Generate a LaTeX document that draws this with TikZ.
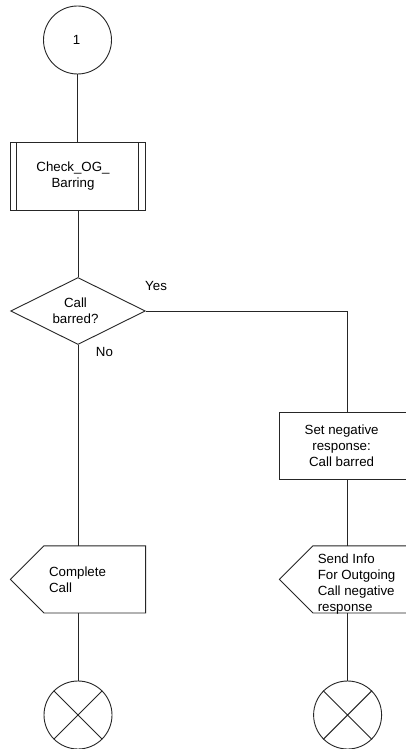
\documentclass[tikz,border=0pt]{standalone}
\usepackage{fontspec}
\setmainfont{Liberation Sans}
\usetikzlibrary{shapes.geometric}
\tikzset{
  ln/.style={draw=black!85, line width=0.9pt},
  txt/.style={font=\fontsize{13.3}{16}\selectfont, inner sep=0pt, align=center},
  conn/.style={circle, ln, minimum size=68pt, inner sep=0pt},
  box/.style={rectangle, ln, minimum width=134.6pt, minimum height=67.3pt, inner sep=0pt},
  decision/.style={diamond, aspect=2, ln, minimum width=134.6pt, minimum height=67pt, inner sep=0pt},
  sigbody/.style={rectangle, draw=none, minimum width=101.3pt, minimum height=66.7pt, inner sep=0pt},
}
\begin{document}
\begin{tikzpicture}[x=1pt,y=-1pt]
\clip (0,0) rectangle (406,749);
\fill[white] (0,0) rectangle (406,749);
% start connector
\node[conn] (start) at (77.5,40) {};
\node[txt] (startt) at ([xshift=-1pt]start.center) {1};
% procedure
\node[box] (proc) at (78,176.5) {};
\draw[ln] ([xshift=6.6pt]proc.north west) -- ([xshift=6.6pt]proc.south west);
\draw[ln] ([xshift=-7.3pt]proc.north east) -- ([xshift=-7.3pt]proc.south east);
\node[txt] (proct) at ([xshift=-5pt]proc.center) {Check\_OG\_\\Barring};
% decision
\node[decision] (dec) at (78,311) {};
\node[txt] (dect) at ([xshift=-2.5pt]dec.center) {Call\\barred?};
\node[txt, anchor=west] (yes) at (145,285.7) {Yes};
\node[txt, anchor=west] (no) at (95.7,352) {No};
% task
\node[box, minimum width=135.4pt, minimum height=67pt] (neg) at (347.6,445.5) {};
\node[txt] (negt) at ([xshift=-6pt]neg.center) {Set negative\\response:\\Call barred};
% output left
\node[sigbody] (cc) at (94.7,579.4) {};
\draw[ln] (cc.north west) -- (cc.north east) -- (cc.south east) -- (cc.south west) -- ([xshift=-33.4pt]cc.west) -- cycle;
\node[txt, align=left, anchor=west] (cct) at ([xshift=5pt]cc.west) {Complete\\Call};
% output right
\node[sigbody] (si) at (363.7,579.4) {};
\draw[ln] (si.north west) -- (si.north east) -- (si.south east) -- (si.south west) -- ([xshift=-33.4pt]si.west) -- cycle;
\node[txt, align=left, anchor=west] (sit) at ([xshift=4.7pt,yshift=-5pt]si.west) {Send Info\\For Outgoing\\Call negative\\response};
% end connectors
\node[conn] (e1) at (78,715) {};
\draw[ln] (e1.north east) -- (e1.south west) (e1.north west) -- (e1.south east);
\node[conn] (e2) at (347.6,715) {};
\draw[ln] (e2.north east) -- (e2.south west) (e2.north west) -- (e2.south east);
% connectors
\draw[ln] (start.south) -- (start.south |- proc.north);
\draw[ln] (proc.south) -- (dec.north);
\draw[ln] (dec.east) -| (neg.north);
\draw[ln] (dec.south) -- (dec.south |- cc.north);
\draw[ln] (neg.south) -- (neg.south |- si.north);
\draw[ln] (e1.north |- cc.south) -- (e1.north);
\draw[ln] (e2.north |- si.south) -- (e2.north);
\end{tikzpicture}
\end{document}
